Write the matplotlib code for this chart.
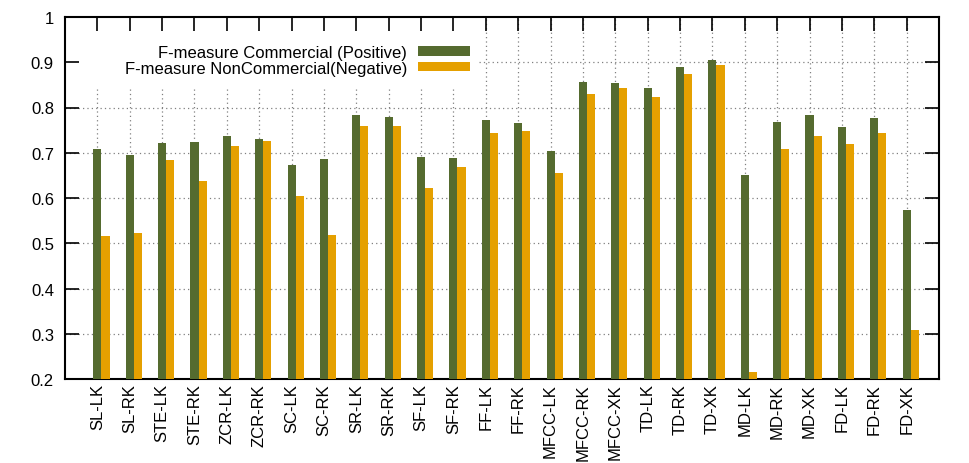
import numpy as np
import matplotlib
matplotlib.use("Agg")
import matplotlib.pyplot as plt
from matplotlib.patches import Patch

plt.rcParams['font.family'] = ['Liberation Sans', 'DejaVu Sans']

categories = ['SL-LK', 'SL-RK', 'STE-LK', 'STE-RK', 'ZCR-LK', 'ZCR-RK',
              'SC-LK', 'SC-RK', 'SR-LK', 'SR-RK', 'SF-LK', 'SF-RK',
              'FF-LK', 'FF-RK', 'MFCC-LK', 'MFCC-RK', 'MFCC-XK',
              'TD-LK', 'TD-RK', 'TD-XK', 'MD-LK', 'MD-RK', 'MD-XK',
              'FD-LK', 'FD-RK', 'FD-XK']
commercial = [0.708, 0.694, 0.721, 0.723, 0.736, 0.730, 0.672, 0.686, 0.783, 0.780,
              0.690, 0.688, 0.772, 0.766, 0.704, 0.856, 0.855, 0.844, 0.889, 0.905,
              0.650, 0.767, 0.783, 0.757, 0.777, 0.573]
noncommercial = [0.516, 0.522, 0.683, 0.637, 0.714, 0.727, 0.605, 0.519, 0.759, 0.759,
                 0.622, 0.668, 0.743, 0.749, 0.656, 0.829, 0.842, 0.824, 0.873, 0.895,
                 0.215, 0.709, 0.738, 0.720, 0.744, 0.309]
yticks = [0.2, 0.3, 0.4, 0.5, 0.6, 0.7, 0.8, 0.9, 1.0]
labels = ['F-measure Commercial (Positive)', 'F-measure NonCommercial(Negative)']

green = '#556b2f'
orange = '#e5a000'
w = 0.25

fig = plt.figure(figsize=(9.69, 4.64), dpi=100)
ax = fig.add_axes([65/969, 1-380/464, 874/969, 362/464])

x = np.arange(len(categories))
ax.bar(x, commercial, w, color=green, zorder=3)
ax.bar(x + w, noncommercial, w, color=orange, zorder=3)

ax.set_xlim(-1, len(categories))
ax.set_ylim(0.2, 1.0)

# grid, hidden behind the opaque key box (gnuplot style)
key_x, key_y = 11.8, 0.84
grid_kw = dict(colors='#808080', linestyles=(0, (1, 2.5)), linewidth=0.9, zorder=1)
for xi in x:
    top = key_y if xi < key_x else 1.0
    ax.vlines(xi, 0.2, top, **grid_kw)
for yv in yticks[1:-1]:
    left = key_x if yv > key_y else -1
    ax.hlines(yv, left, len(categories), **grid_kw)

ax.set_xticks(x)
ax.set_xticklabels(categories, rotation=90, fontsize=12)
ax.set_yticks(yticks)
ax.set_yticklabels(['%g' % v for v in yticks], fontsize=12)
ax.tick_params(axis='both', direction='in', top=True, right=True,
               length=10, width=1.2)
ax.tick_params(axis='y', pad=8)
ax.tick_params(axis='x', pad=3)
for s in ax.spines.values():
    s.set_linewidth(1.5)

handles = [Patch(facecolor=green, edgecolor='none'),
           Patch(facecolor=orange, edgecolor='none')]
ax.legend(handles, labels, loc='upper right', bbox_to_anchor=(0.4725, 0.946),
          frameon=False, fontsize=12, markerfirst=False, borderpad=0,
          handlelength=3.1, handleheight=0.48, handletextpad=0.66,
          labelspacing=0.05)

fig.savefig('out.png', dpi=100)
